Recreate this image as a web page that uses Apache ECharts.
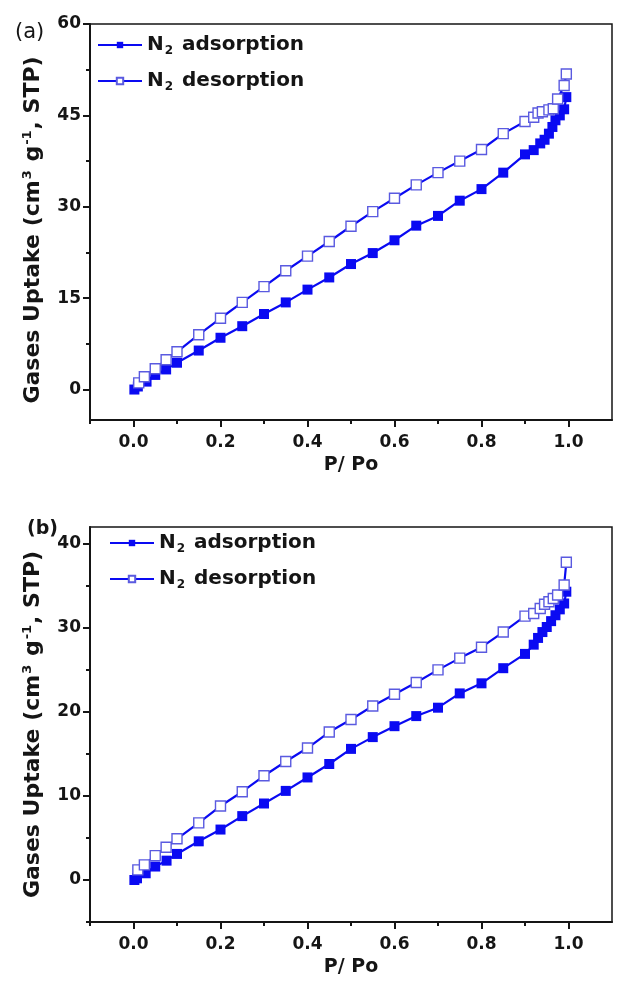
<!DOCTYPE html>
<html>
<head>
<meta charset="utf-8">
<script src="https://cdn.jsdelivr.net/npm/echarts@6/dist/echarts.min.js"></script>
<style>
  html, body { margin: 0; padding: 0; background: #fff; }
  #chart { width: 627px; height: 981px; }
</style>
</head>
<body>
<div id="chart"></div>
<script>
// N2 isotherms for two samples: relative pressure vs. gas uptake
const pressureAdsA = [0.002, 0.01, 0.03, 0.05, 0.075, 0.1, 0.15, 0.2, 0.25, 0.3, 0.35, 0.4, 0.45, 0.5, 0.55, 0.6, 0.65, 0.7, 0.75, 0.8, 0.85, 0.9, 0.92, 0.935, 0.945, 0.955, 0.963, 0.97, 0.98, 0.99, 0.995];
const uptakeAdsA   = [0.0, 0.5, 1.3, 2.4, 3.3, 4.4, 6.4, 8.5, 10.4, 12.4, 14.3, 16.4, 18.4, 20.6, 22.4, 24.5, 26.9, 28.5, 31.0, 32.9, 35.6, 38.6, 39.3, 40.4, 41.0, 42.0, 43.1, 44.2, 45.0, 46.0, 48.0];
const pressureDesA = [0.012, 0.025, 0.05, 0.075, 0.1, 0.15, 0.2, 0.25, 0.3, 0.35, 0.4, 0.45, 0.5, 0.55, 0.6, 0.65, 0.7, 0.75, 0.8, 0.85, 0.9, 0.92, 0.93, 0.94, 0.955, 0.965, 0.975, 0.99, 0.995];
const uptakeDesA   = [1.1, 2.1, 3.4, 4.9, 6.2, 9.0, 11.7, 14.3, 16.9, 19.5, 21.9, 24.3, 26.8, 29.2, 31.4, 33.6, 35.6, 37.5, 39.4, 42.0, 44.0, 44.7, 45.4, 45.6, 45.9, 46.1, 47.7, 49.9, 51.8];

const pressureAdsB = [0.002, 0.008, 0.028, 0.05, 0.076, 0.1, 0.15, 0.2, 0.25, 0.3, 0.35, 0.4, 0.45, 0.5, 0.55, 0.6, 0.65, 0.7, 0.75, 0.8, 0.85, 0.9, 0.92, 0.93, 0.94, 0.95, 0.96, 0.97, 0.98, 0.99, 0.995];
const uptakeAdsB   = [0.0, 0.2, 0.8, 1.6, 2.3, 3.1, 4.6, 6.0, 7.6, 9.1, 10.6, 12.2, 13.8, 15.6, 17.0, 18.3, 19.5, 20.5, 22.2, 23.4, 25.2, 26.9, 28.0, 28.8, 29.5, 30.1, 30.8, 31.5, 32.2, 32.9, 34.3];
const pressureDesB = [0.01, 0.025, 0.05, 0.075, 0.1, 0.15, 0.2, 0.25, 0.3, 0.35, 0.4, 0.45, 0.5, 0.55, 0.6, 0.65, 0.7, 0.75, 0.8, 0.85, 0.9, 0.92, 0.935, 0.945, 0.955, 0.965, 0.975, 0.99, 0.995];
const uptakeDesB   = [1.2, 1.8, 2.9, 3.9, 4.9, 6.8, 8.8, 10.5, 12.4, 14.1, 15.7, 17.6, 19.1, 20.7, 22.1, 23.5, 25.0, 26.4, 27.7, 29.5, 31.4, 31.7, 32.3, 32.8, 33.1, 33.5, 33.9, 35.1, 37.8];

// tick positions
const xMajorTicks = [0.0, 0.2, 0.4, 0.6, 0.8, 1.0];
const xMinorTicks = [-0.1, 0.1, 0.3, 0.5, 0.7, 0.9];
const yMajorTicksA = [0, 15, 30, 45, 60];
const yMinorTicksA = [7.5, 22.5, 37.5, 52.5];
const yMajorTicksB = [0, 10, 20, 30, 40];
const yMinorTicksB = [-5, 5, 15, 25, 35];

const ADS = 'N2 adsorption';
const DES = 'N2 desorption';

const FONT = 'DejaVu Sans, Arial, sans-serif';
const INK = '#151515';
const BLUE = '#0a0af2';

const pairs = (xs, ys) => xs.map((x, i) => [x, ys[i]]);

const grids = [
  { left: 90, right: 15, top: 24, height: 396 },
  { left: 90, right: 15, top: 527, height: 395 }
];

// x axis carrying the line, labels and name
function labelX(gi) {
  return {
    type: 'value', gridIndex: gi, min: -0.1, max: 1.1, position: 'bottom',
    name: 'P/ Po', nameLocation: 'middle', nameGap: 36,
    nameTextStyle: { fontFamily: FONT, fontWeight: 'bold', fontSize: 19, color: INK },
    axisLine: { show: true, onZero: false, lineStyle: { color: INK, width: 2 } },
    axisTick: { show: false },
    axisLabel: { show: true, customValues: xMajorTicks, margin: 14, fontFamily: FONT, fontWeight: 'bold', fontSize: 17, color: INK, formatter: v => v.toFixed(1) },
    splitLine: { show: false }
  };
}
// x axis that only draws ticks at the given values
function tickX(gi, values, len) {
  return {
    type: 'value', gridIndex: gi, min: -0.1, max: 1.1, position: 'bottom',
    axisLine: { show: false, onZero: false },
    axisTick: { show: true, inside: false, length: len, customValues: values, lineStyle: { color: INK, width: 2 } },
    axisLabel: { show: false },
    splitLine: { show: false }
  };
}
function yNameStyle(shift) {
  return {
    fontFamily: FONT, fontWeight: 'bold', fontSize: 22, color: INK,
    padding: [0, shift, 0, 0],
    rich: {
      t: { fontFamily: FONT, fontWeight: 'bold', fontSize: 22, color: INK, lineHeight: 25 },
      p: { fontFamily: FONT, fontWeight: 'bold', fontSize: 13, color: INK, lineHeight: 10, verticalAlign: 'top', padding: [0, 1, 0, 1] }
    }
  };
}
const yName = '{t|Gases Uptake (cm}{p|3}{t| g}{p|-1}{t|, STP)}';
function labelY(gi, min, max, majors, shift) {
  return {
    type: 'value', gridIndex: gi, min: min, max: max, position: 'left',
    name: yName, nameLocation: 'middle', nameGap: 44, nameRotate: 90,
    nameTextStyle: yNameStyle(shift),
    axisLine: { show: true, onZero: false, lineStyle: { color: INK, width: 2 } },
    axisTick: { show: false },
    axisLabel: { show: true, customValues: majors, margin: 9, fontFamily: FONT, fontWeight: 'bold', fontSize: 17, color: INK },
    splitLine: { show: false }
  };
}
// y axis that only draws ticks at the given values
function tickY(gi, min, max, values, len) {
  return {
    type: 'value', gridIndex: gi, min: min, max: max, position: 'left',
    axisLine: { show: false, onZero: false },
    axisTick: { show: true, inside: false, length: len, customValues: values, lineStyle: { color: INK, width: 2 } },
    axisLabel: { show: false },
    splitLine: { show: false }
  };
}

function adsSeries(xi, yi, data) {
  return {
    name: ADS, type: 'line', xAxisIndex: xi, yAxisIndex: yi, data: data,
    symbol: 'rect', symbolSize: 10, showAllSymbol: true,
    lineStyle: { color: BLUE, width: 2.2 },
    itemStyle: { color: BLUE, borderColor: BLUE, borderWidth: 0 },
    emphasis: { disabled: true }, animation: false
  };
}
function desSeries(xi, yi, data) {
  return {
    name: DES, type: 'line', xAxisIndex: xi, yAxisIndex: yi, data: data,
    symbol: 'rect', symbolSize: 10, showAllSymbol: true,
    lineStyle: { color: BLUE, width: 2.2 },
    itemStyle: { color: '#ffffff', borderColor: '#5a5ae0', borderWidth: 1.4 },
    emphasis: { disabled: true }, animation: false
  };
}

const legendRich = {
  t: { fontFamily: FONT, fontWeight: 'bold', fontSize: 20, color: INK, lineHeight: 24 },
  s: { fontFamily: FONT, fontWeight: 'bold', fontSize: 12, color: INK, lineHeight: 10, verticalAlign: 'bottom', padding: [0, 2, 0, 1] }
};
const legendFormatter = name => name === ADS ? '{t|N}{s|2}{t| adsorption}' : '{t|N}{s|2}{t| desorption}';
function legend(left, top) {
  return {
    orient: 'vertical', left: left, top: top,
    itemWidth: 44, itemHeight: 8, itemGap: 14, selectedMode: false,
    data: [ADS, DES], formatter: legendFormatter,
    textStyle: { rich: legendRich, padding: [0, 0, 0, 0] }
  };
}

const chart = echarts.init(document.getElementById('chart'), null, { renderer: 'canvas' });
chart.setOption({
  backgroundColor: '#ffffff',
  animation: false,
  title: [
    { text: '(a)', left: 10, top: 17, textStyle: { fontFamily: FONT, fontWeight: 'normal', fontSize: 21, color: INK } },
    { text: '(b)', left: 22, top: 515, textStyle: { fontFamily: FONT, fontWeight: 'bold', fontSize: 19, color: INK } }
  ],
  grid: grids.map(g => Object.assign({ show: true, borderColor: INK, borderWidth: 1.5, backgroundColor: 'transparent' }, g)),
  xAxis: [
    labelX(0), tickX(0, xMajorTicks, 7), tickX(0, xMinorTicks, 4),
    labelX(1), tickX(1, xMajorTicks, 7), tickX(1, xMinorTicks, 4)
  ],
  yAxis: [
    labelY(0, -5, 60, yMajorTicksA, 16), tickY(0, -5, 60, yMajorTicksA, 7), tickY(0, -5, 60, yMinorTicksA, 4),
    labelY(1, -5, 42, yMajorTicksB, 0), tickY(1, -5, 42, yMajorTicksB, 7), tickY(1, -5, 42, yMinorTicksB, 4)
  ],
  legend: [legend(92, 30), legend(104, 528)],
  series: [
    adsSeries(0, 0, pairs(pressureAdsA, uptakeAdsA)),
    desSeries(0, 0, pairs(pressureDesA, uptakeDesA)),
    adsSeries(3, 3, pairs(pressureAdsB, uptakeAdsB)),
    desSeries(3, 3, pairs(pressureDesB, uptakeDesB))
  ]
});
</script>
</body>
</html>
